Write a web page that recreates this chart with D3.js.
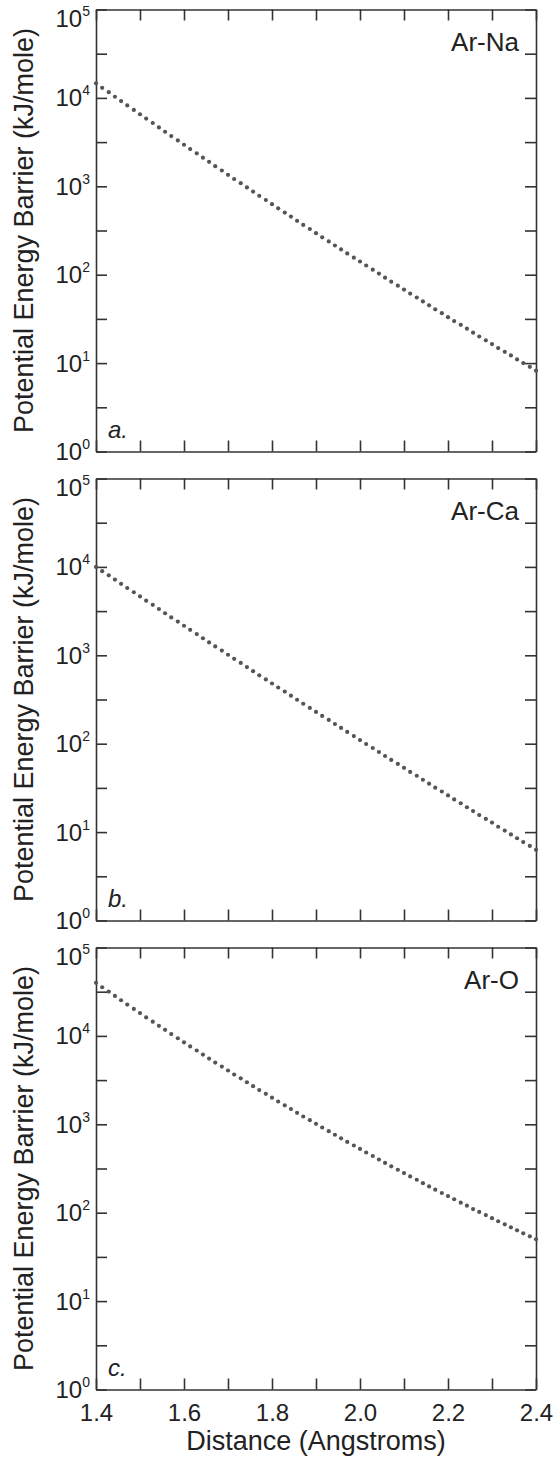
<!DOCTYPE html>
<html>
<head>
<meta charset="utf-8">
<script src="https://cdn.jsdelivr.net/npm/d3@7"></script>
<style>
  body { margin: 0; background: #fff; }
  svg { display: block; font-family: "Liberation Sans", Arial, sans-serif; }
</style>
</head>
<body>
<div id="vis-holder"></div>
<script>
// distances (Angstroms) for every plotted point
const distance = [
  1.400, 1.414, 1.429, 1.443, 1.457, 1.471, 1.486,
  1.500, 1.514, 1.529, 1.543, 1.557, 1.571, 1.586,
  1.600, 1.614, 1.629, 1.643, 1.657, 1.671, 1.686,
  1.700, 1.714, 1.729, 1.743, 1.757, 1.771, 1.786,
  1.800, 1.814, 1.829, 1.843, 1.857, 1.871, 1.886,
  1.900, 1.914, 1.929, 1.943, 1.957, 1.971, 1.986,
  2.000, 2.014, 2.029, 2.043, 2.057, 2.071, 2.086,
  2.100, 2.114, 2.129, 2.143, 2.157, 2.171, 2.186,
  2.200, 2.214, 2.229, 2.243, 2.257, 2.271, 2.286,
  2.300, 2.314, 2.329, 2.343, 2.357, 2.371, 2.386,
  2.400
];

// potential energy barrier (kJ/mole)
const arNa = [
  14600, 13000, 11600, 10300, 9210, 8210, 7320, 6530, 5830, 5200,
  4640, 4140, 3700, 3300, 2950, 2640, 2360, 2110, 1890, 1690,
  1510, 1350, 1210, 1085, 972, 871, 781, 700, 628, 563,
  505, 454, 407, 366, 329, 295, 265, 238, 214, 193,
  174, 156, 141, 127, 114, 103, 92.5, 83.4, 75.2, 67.8,
  61.1, 55.2, 49.8, 45.0, 40.6, 36.7, 33.1, 29.9, 27.1, 24.5,
  22.1, 20.0, 18.1, 16.4, 14.8, 13.4, 12.2, 11.0, 10.0, 9.07, 8.22
];
const arCa = [
  10000, 8950, 8020, 7180, 6430, 5770, 5170, 4630, 4150, 3720,
  3340, 2990, 2680, 2410, 2160, 1940, 1740, 1560, 1400, 1260,
  1130, 1015, 912, 819, 736, 661, 594, 534, 480, 432,
  389, 349, 314, 283, 254, 229, 206, 186, 167, 151,
  136, 122, 110, 99.2, 89.4, 80.6, 72.6, 65.5, 59.0, 53.3,
  48.0, 43.4, 39.1, 35.3, 31.8, 28.8, 26.0, 23.4, 21.2, 19.1,
  17.3, 15.6, 14.1, 12.8, 11.5, 10.4, 9.42, 8.52, 7.71, 6.97, 6.31
];
const arO = [
  39800, 35500, 31700, 28300, 25300, 22600, 20200, 18100, 16200, 14500,
  13000, 11700, 10500, 9410, 8460, 7600, 6840, 6150, 5540, 4990,
  4500, 4060, 3660, 3310, 2990, 2700, 2440, 2210, 2000, 1810,
  1640, 1490, 1350, 1225, 1113, 1012, 920, 837, 762, 694,
  632, 576, 526, 480, 438, 400, 366, 335, 306, 281,
  257, 236, 216, 198, 182, 167, 154, 142, 130, 120,
  110, 102, 93.9, 86.7, 80.0, 73.9, 68.3, 63.2, 58.5, 54.1, 50.1
];

const panelNames = ["Ar-Na", "Ar-Ca", "Ar-O"];
const panelLetters = ["a.", "b.", "c."];
const xTicks = [1.4, 1.5, 1.6, 1.7, 1.8, 1.9, 2.0, 2.1, 2.2, 2.3, 2.4];
const xTickLabels = ["1.4", "1.6", "1.8", "2.0", "2.2", "2.4"];
const yPowers = [0, 1, 2, 3, 4, 5];
const yLabel = "Potential Energy Barrier (kJ/mole)";
const xLabel = "Distance (Angstroms)";

const series = [arNa, arCa, arO];

const width = 554, height = 1458;
const left = 96, right = 536;
const panelTop = [9.5, 478.5, 947.5];
const panelH = 442;
const tickLen = 11;
const axisColor = "#333";
const textColor = "#222";

const svg = d3.select("#vis-holder")
  .append("svg")
  .attr("width", width)
  .attr("height", height);

svg.append("rect").attr("width", width).attr("height", height).attr("fill", "#fff");

const x = d3.scaleLinear().domain([1.4, 2.4]).range([left, right]);

// decades plus a tick half way through each decade
const yTickVals = [];
yPowers.forEach(p => {
  yTickVals.push(Math.pow(10, p));
  if (p < 5) yTickVals.push(Math.pow(10, p + 0.5));
});

series.forEach((vals, k) => {
  const top = panelTop[k];
  const y = d3.scaleLog().domain([1, 1e5]).range([top + panelH, top]);
  const g = svg.append("g");

  // axes, ticks pointing inward
  g.append("g").attr("transform", `translate(0,${top + panelH})`)
    .call(d3.axisBottom(x).tickValues(xTicks).tickSizeInner(-tickLen).tickSizeOuter(0)
      .tickPadding(14)
      .tickFormat(d => (k === 2 && xTickLabels.includes(d.toFixed(1))) ? d.toFixed(1) : ""));
  g.append("g").attr("transform", `translate(0,${top})`)
    .call(d3.axisTop(x).tickValues(xTicks).tickSizeInner(-tickLen).tickSizeOuter(0).tickFormat(""));
  g.append("g").attr("transform", `translate(${left},0)`)
    .call(d3.axisLeft(y).tickValues(yTickVals).tickSizeInner(-tickLen).tickSizeOuter(0).tickFormat(""));
  g.append("g").attr("transform", `translate(${right},0)`)
    .call(d3.axisRight(y).tickValues(yTickVals).tickSizeInner(-tickLen).tickSizeOuter(0).tickFormat(""));

  g.selectAll(".domain, .tick line")
    .attr("stroke", axisColor)
    .attr("stroke-width", 1.6);
  g.selectAll(".tick text")
    .attr("fill", textColor)
    .attr("font-size", 24)
    .attr("font-family", "'Liberation Sans', Arial, sans-serif");

  // y tick labels: 10 with superscript power
  yPowers.forEach(p => {
    let yy = y(Math.pow(10, p)) + 8.5;
    if (p === 5) yy += 9;
    const t = g.append("text")
      .attr("x", 90)
      .attr("y", yy)
      .attr("text-anchor", "end")
      .attr("fill", textColor)
      .attr("font-size", 24);
    t.append("tspan").text("10");
    t.append("tspan").attr("font-size", 14).attr("dy", -11).text(p);
  });

  // data points
  g.selectAll("circle")
    .data(vals)
    .enter().append("circle")
    .attr("cx", (d, i) => x(distance[i]))
    .attr("cy", d => y(d))
    .attr("r", 2.1)
    .attr("fill", "#555");

  g.append("text")
    .attr("x", 519)
    .attr("y", top + 41)
    .attr("text-anchor", "end")
    .attr("fill", textColor)
    .attr("font-size", 26)
    .text(panelNames[k]);

  g.append("text")
    .attr("x", 108)
    .attr("y", top + panelH - 14)
    .attr("fill", textColor)
    .attr("font-size", 24)
    .attr("font-style", "italic")
    .text(panelLetters[k]);

  g.append("text")
    .attr("transform", `translate(33,${top + panelH / 2}) rotate(-90)`)
    .attr("text-anchor", "middle")
    .attr("fill", textColor)
    .attr("font-size", 27)
    .text(yLabel);
});

svg.append("text")
  .attr("x", (left + right) / 2)
  .attr("y", 1450)
  .attr("text-anchor", "middle")
  .attr("fill", textColor)
  .attr("font-size", 27)
  .text(xLabel);
</script>
</body>
</html>
